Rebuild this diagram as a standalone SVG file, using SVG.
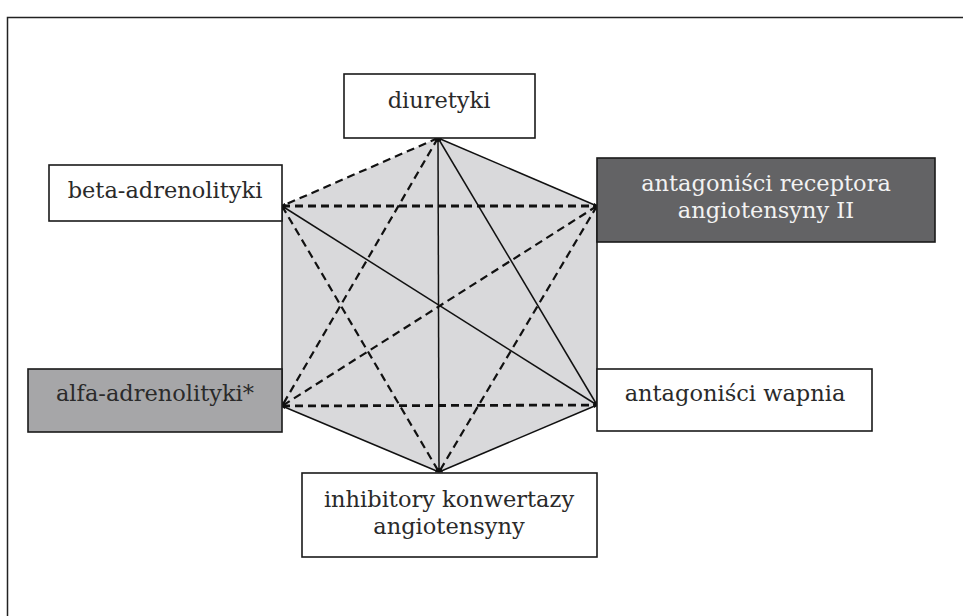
<svg xmlns="http://www.w3.org/2000/svg" width="963" height="616" viewBox="0 0 963 616">
<defs>
<marker id="ah" viewBox="0 0 10 10" refX="9" refY="5" markerWidth="4" markerHeight="4" orient="auto-start-reverse" markerUnits="userSpaceOnUse"><path d="M0,0 L10,5 L0,10 z" fill="#111"/></marker>
<style>
.box{stroke:#1a1a1a;stroke-width:1.6}
.t{font-family:"DejaVu Serif","Liberation Serif",serif;font-size:22.5px;fill:#2a2a2a;text-anchor:middle}
.s{stroke:#111;stroke-width:1.5;fill:none}
.d{stroke:#111;stroke-width:2.2;stroke-dasharray:8,5;fill:none}
.dh{stroke:#111;stroke-width:2.8;stroke-dasharray:8,5;fill:none}
.e{marker-start:url(#ah);marker-end:url(#ah)}
</style>
</defs>
<rect x="7.5" y="17.5" width="960" height="640" fill="#fff" stroke="#222" stroke-width="1.5"/>
<polygon points="438,138 597,206 597,405 439,472 282,406 282,206" fill="#d9d9db"/>
<g id="connectors">
<line class="s e" x1="438" y1="138" x2="597" y2="206"/>
<line class="s e" x1="438" y1="138" x2="439" y2="472"/>
<line class="s e" x1="438" y1="138" x2="597" y2="405"/>
<line class="s e" x1="282" y1="206" x2="597" y2="405"/>
<line class="s e" x1="282" y1="406" x2="439" y2="472"/>
<line class="s e" x1="597" y1="405" x2="439" y2="472"/>
<line class="s" x1="282" y1="206" x2="282" y2="406"/>
<line class="s" x1="597" y1="206" x2="597" y2="405"/>
<line class="d e" x1="438" y1="138" x2="282" y2="206"/>
<line class="d e" x1="438" y1="138" x2="282" y2="406"/>
<line class="dh e" x1="282" y1="206" x2="597" y2="206"/>
<line class="d e" x1="282" y1="206" x2="439" y2="472"/>
<line class="d e" x1="597" y1="206" x2="282" y2="406"/>
<line class="d e" x1="597" y1="206" x2="439" y2="472"/>
<line class="dh e" x1="282" y1="406" x2="597" y2="405"/>
</g>
<g id="diuretyki">
<rect class="box" x="344" y="74" width="191" height="64" fill="#fff"/>
<text class="t" x="439" y="108">diuretyki</text>
</g>
<g id="beta">
<rect class="box" x="49" y="165" width="233" height="56" fill="#fff"/>
<text class="t" x="165" y="198">beta-adrenolityki</text>
</g>
<g id="arb">
<rect class="box" x="597" y="158" width="338" height="84" fill="#636365"/>
<text class="t" x="766" y="191" style="fill:#f2f2f2">antagoniści receptora</text>
<text class="t" x="766" y="218" style="fill:#f2f2f2">angiotensyny II</text>
</g>
<g id="alfa">
<rect class="box" x="28" y="369" width="254" height="63" fill="#a6a6a8"/>
<text class="t" x="155" y="401">alfa-adrenolityki*</text>
</g>
<g id="wapnia">
<rect class="box" x="597" y="369" width="275" height="62" fill="#fff"/>
<text class="t" x="735" y="401">antagoniści wapnia</text>
</g>
<g id="inhibitory">
<rect class="box" x="302" y="473" width="295" height="84" fill="#fff"/>
<text class="t" x="449" y="507">inhibitory konwertazy</text>
<text class="t" x="449" y="534">angiotensyny</text>
</g>
</svg>
